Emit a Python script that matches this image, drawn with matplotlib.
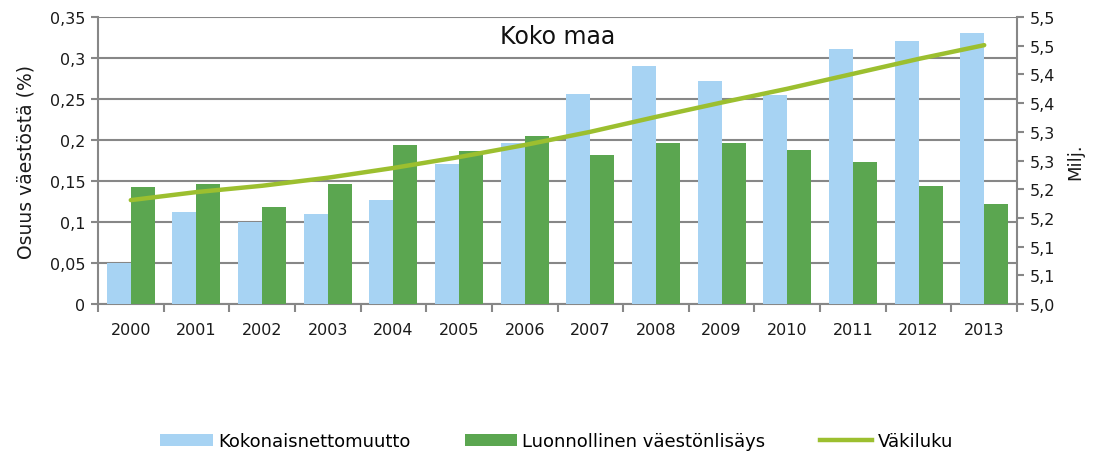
import matplotlib
matplotlib.use('Agg')
import matplotlib.pyplot as plt
from matplotlib.patches import Patch
from matplotlib.lines import Line2D
import numpy as np

plt.rcParams['font.family'] = ['DejaVu Sans']

years = ['2000', '2001', '2002', '2003', '2004', '2005', '2006',
         '2007', '2008', '2009', '2010', '2011', '2012', '2013']
nettomuutto = [0.050, 0.112, 0.100, 0.110, 0.127, 0.171, 0.196,
               0.256, 0.290, 0.272, 0.255, 0.311, 0.321, 0.331]
luonnollinen = [0.143, 0.146, 0.118, 0.146, 0.194, 0.186, 0.2045,
                0.182, 0.196, 0.196, 0.188, 0.173, 0.1435, 0.122]
vakiluku = [5.181, 5.195, 5.206, 5.220, 5.237, 5.256, 5.277,
            5.300, 5.326, 5.351, 5.375, 5.401, 5.427, 5.451]

left_ticks = [0, 0.05, 0.1, 0.15, 0.2, 0.25, 0.3, 0.35]
left_labels = ['0', '0,05', '0,1', '0,15', '0,2', '0,25', '0,3', '0,35']
right_ticks = [5.0, 5.05, 5.1, 5.15, 5.2, 5.25, 5.3, 5.35, 5.4, 5.45, 5.5]
right_labels = ['5,0', '5,1', '5,1', '5,2', '5,2', '5,3', '5,3', '5,4', '5,4', '5,5', '5,5']

blue = '#a7d3f3'
green = '#5ba650'
lime = '#9cbf2f'
grid_c = '#878787'

fig = plt.figure(figsize=(11.02, 4.56), dpi=100)
ax = fig.add_axes([0.0889, 0.3311, 0.8340, 0.6294])

x = np.arange(len(years))
w = 0.365
ax.bar(x - w / 2, nettomuutto, w, color=blue, zorder=3)
ax.bar(x + w / 2, luonnollinen, w, color=green, zorder=3)

ax.set_xlim(-0.5, len(years) - 0.5)
ax.set_ylim(0, 0.35)
ax.set_yticks(left_ticks)
ax.set_yticklabels(left_labels)
ax.yaxis.grid(True, color=grid_c, linewidth=1.5, zorder=0)
ax.set_axisbelow(True)
ax.set_xticks(x)
ax.set_xticklabels(years)
ax.set_xticks(np.arange(-0.5, len(years), 1), minor=True)
ax.tick_params(axis='x', which='major', length=0, pad=13, labelsize=11.5, colors='#1a1a1a')
ax.tick_params(axis='x', which='minor', length=6, width=1.5, color=grid_c)
ax.tick_params(axis='y', length=5, width=1.5, color=grid_c, labelsize=11.5,
               labelcolor='#1a1a1a', pad=4)
for s in ['top', 'right']:
    ax.spines[s].set_visible(False)
for s in ['left', 'bottom']:
    ax.spines[s].set_color(grid_c)
    ax.spines[s].set_linewidth(1.5)
ax.set_ylabel('Osuus väestöstä (%)', fontsize=13.5, color='#1a1a1a', labelpad=10)

ax2 = ax.twinx()
ax2.plot(x, vakiluku, color=lime, linewidth=3.2, solid_capstyle='round', zorder=5)
ax2.set_ylim(5.0, 5.5)
ax2.set_yticks(right_ticks)
ax2.set_yticklabels(right_labels)
ax2.tick_params(axis='y', length=5, width=1.5, color=grid_c, labelsize=11.5,
                labelcolor='#1a1a1a', pad=4)
for s in ['top', 'left', 'bottom']:
    ax2.spines[s].set_visible(False)
ax2.spines['right'].set_color(grid_c)
ax2.spines['right'].set_linewidth(1.5)
ax2.set_ylabel('Milj.', fontsize=13, color='#1a1a1a', labelpad=8)

ax.text(0.5, 0.935, 'Koko maa', transform=ax.transAxes, ha='center', va='center',
        fontsize=17, color='#111111')

handles = [Patch(facecolor=blue, label='Kokonaisnettomuutto'),
           Patch(facecolor=green, label='Luonnollinen väestönlisäys'),
           Line2D([0], [0], color=lime, linewidth=3.2, label='Väkiluku')]
fig.legend(handles=handles, loc='center', bbox_to_anchor=(0.505, 0.03), ncol=3,
           frameon=False, fontsize=13, handlelength=2.9, handleheight=0.6,
           handletextpad=0.3, columnspacing=3.0)

fig.savefig('out.png', dpi=100, facecolor='white')
